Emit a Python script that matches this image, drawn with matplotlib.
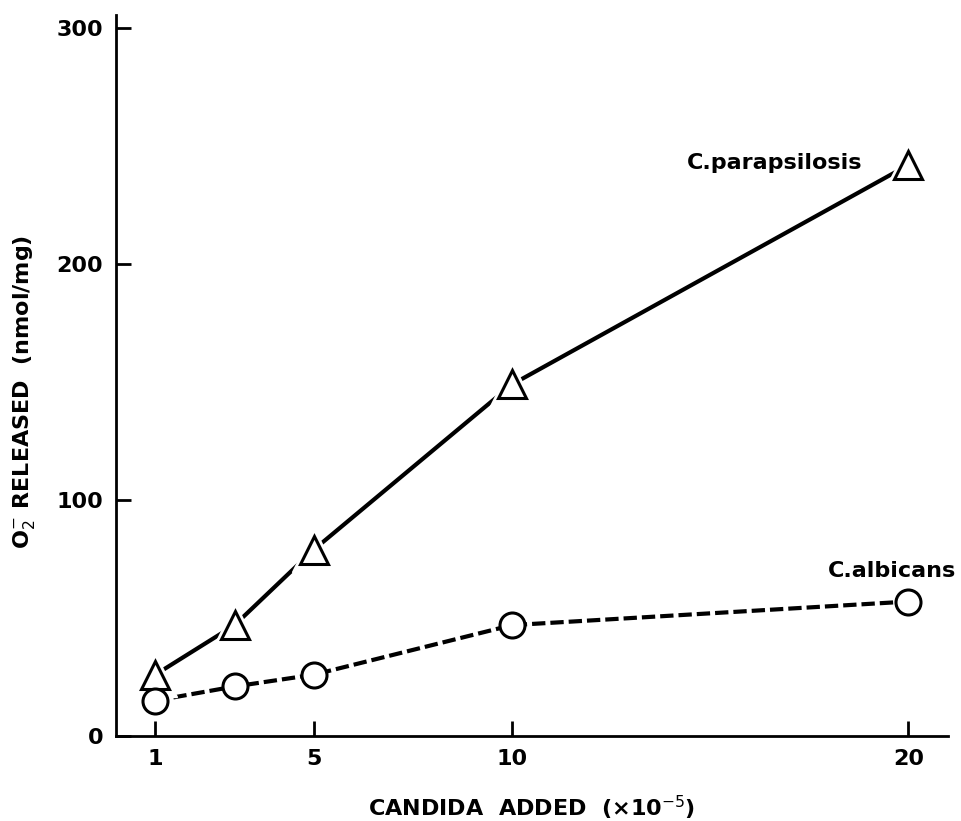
import matplotlib
matplotlib.use("Agg")
import matplotlib.pyplot as plt

plt.rcParams["font.family"] = "sans-serif"
plt.rcParams["font.sans-serif"] = ["DejaVu Sans"]
plt.rcParams["mathtext.fontset"] = "dejavusans"

# candida added (x10^-5)
candida = [1, 3, 5, 10, 20]
# O2- released (nmol/mg)
parapsilosis = [26, 47, 79, 149, 242]
albicans = [15, 21, 26, 47, 57]

x_ticks = [1, 5, 10, 20]
y_ticks = [0, 100, 200, 300]

fig = plt.figure(figsize=(9.61, 8.21), dpi=100)
ax = fig.add_axes([0.1204, 0.1035, 0.866, 0.878])

# white halos give the small gap between line and triangle
ax.plot(candida, parapsilosis, color='black', lw=3.0, solid_capstyle='round', zorder=2)
ax.plot(candida, parapsilosis, ls='none', marker='^', ms=31, mfc='white', mec='white', zorder=3)
ax.plot(candida, parapsilosis, ls='none', marker='^', ms=20, mfc='white', mec='black', mew=2.2, zorder=4)

ax.plot(candida, albicans, color='black', lw=3.0, ls=(0, (3.2, 1.2)), zorder=2)
ax.plot(candida, albicans, ls='none', marker='o', ms=18, mfc='white', mec='black', mew=2.2, zorder=4)

ax.text(18.85, 243, 'C.parapsilosis', ha='right', va='center', fontsize=16, fontweight='bold')
ax.text(21.2, 70, 'C.albicans', ha='right', va='center', fontsize=16, fontweight='bold')

ax.set_xlim(0, 21)
ax.set_ylim(0, 305.5)
ax.set_xticks(x_ticks)
ax.set_yticks(y_ticks)
ax.tick_params(direction='in', length=11, width=2, labelsize=16, pad=9)
for lab in ax.get_xticklabels() + ax.get_yticklabels():
    lab.set_fontweight('bold')

for side in ['top', 'right']:
    ax.spines[side].set_visible(False)
for side in ['left', 'bottom']:
    ax.spines[side].set_linewidth(2)

ax.set_xlabel(r'CANDIDA  ADDED  (×10$^{-5}$)', fontsize=16, fontweight='bold', labelpad=18)
ax.set_ylabel(r'O$_2^{-}$ RELEASED  (nmol/mg)', fontsize=16, fontweight='bold')
ax.yaxis.set_label_coords(-0.094, 0.478)

fig.savefig('out.png', dpi=100)
